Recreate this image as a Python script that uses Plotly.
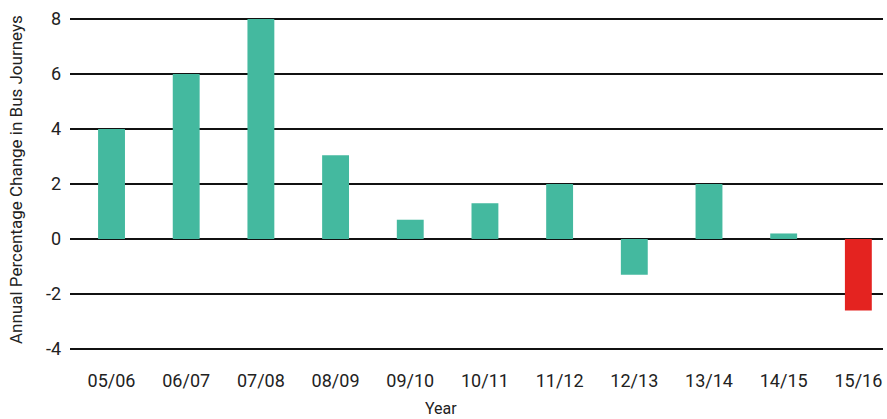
import plotly.graph_objects as go

years = ["05/06", "06/07", "07/08", "08/09", "09/10", "10/11", "11/12", "12/13", "13/14", "14/15", "15/16"]
changes = [4.0, 6.0, 8.0, 3.05, 0.7, 1.3, 2.0, -1.3, 2.0, 0.2, -2.6]
bar_colors = ["#44B99F"] * 10 + ["#E42320"]
y_ticks = [-4, -2, 0, 2, 4, 6, 8]
y_ticktext = ["-4", "-2", "0", "2", "4", "6", "8"]

fig = go.Figure(go.Bar(
    x=years, y=changes, marker=dict(color=bar_colors, line=dict(width=0)),
    width=0.36,
))

font = "Roboto, 'Liberation Sans', sans-serif"
fig.update_layout(
    width=887, height=419,
    margin=dict(l=70, r=4, t=18, b=69, autoexpand=False),
    plot_bgcolor="white", paper_bgcolor="white",
    showlegend=False,
    font=dict(family=font, color="#222222"),
    xaxis=dict(
        range=[-0.556, 10.33], automargin=False,
        showgrid=False, showline=False, zeroline=False,
        ticks="", ticklabelstandoff=18,
        tickfont=dict(size=18, color="#222222"),
    ),
    yaxis=dict(
        range=[-4.04, 8.04], automargin=False,
        tickvals=y_ticks, ticktext=y_ticktext,
        showgrid=True, gridcolor="#111111", gridwidth=2,
        zeroline=True, zerolinecolor="#111111", zerolinewidth=2,
        showline=False, ticks="", ticklabelstandoff=8,
        tickfont=dict(size=18, color="#222222"),
    ),
    annotations=[
        dict(text="Year", xref="paper", yref="paper", x=(441 - 70) / 813, y=0,
             xanchor="center", yanchor="middle", yshift=-58, showarrow=False,
             font=dict(size=16, color="#222222")),
        dict(text="Annual Percentage Change in Bus Journeys", xref="paper", yref="paper",
             x=0, y=0.5, xanchor="center", yanchor="middle", xshift=-54, yshift=4,
             textangle=-90, showarrow=False, font=dict(size=17, color="#222222")),
    ],
)

fig.write_html("out.html", config={"displayModeBar": False},
               post_script="document.body.style.margin='0';document.body.style.overflow='hidden';")
